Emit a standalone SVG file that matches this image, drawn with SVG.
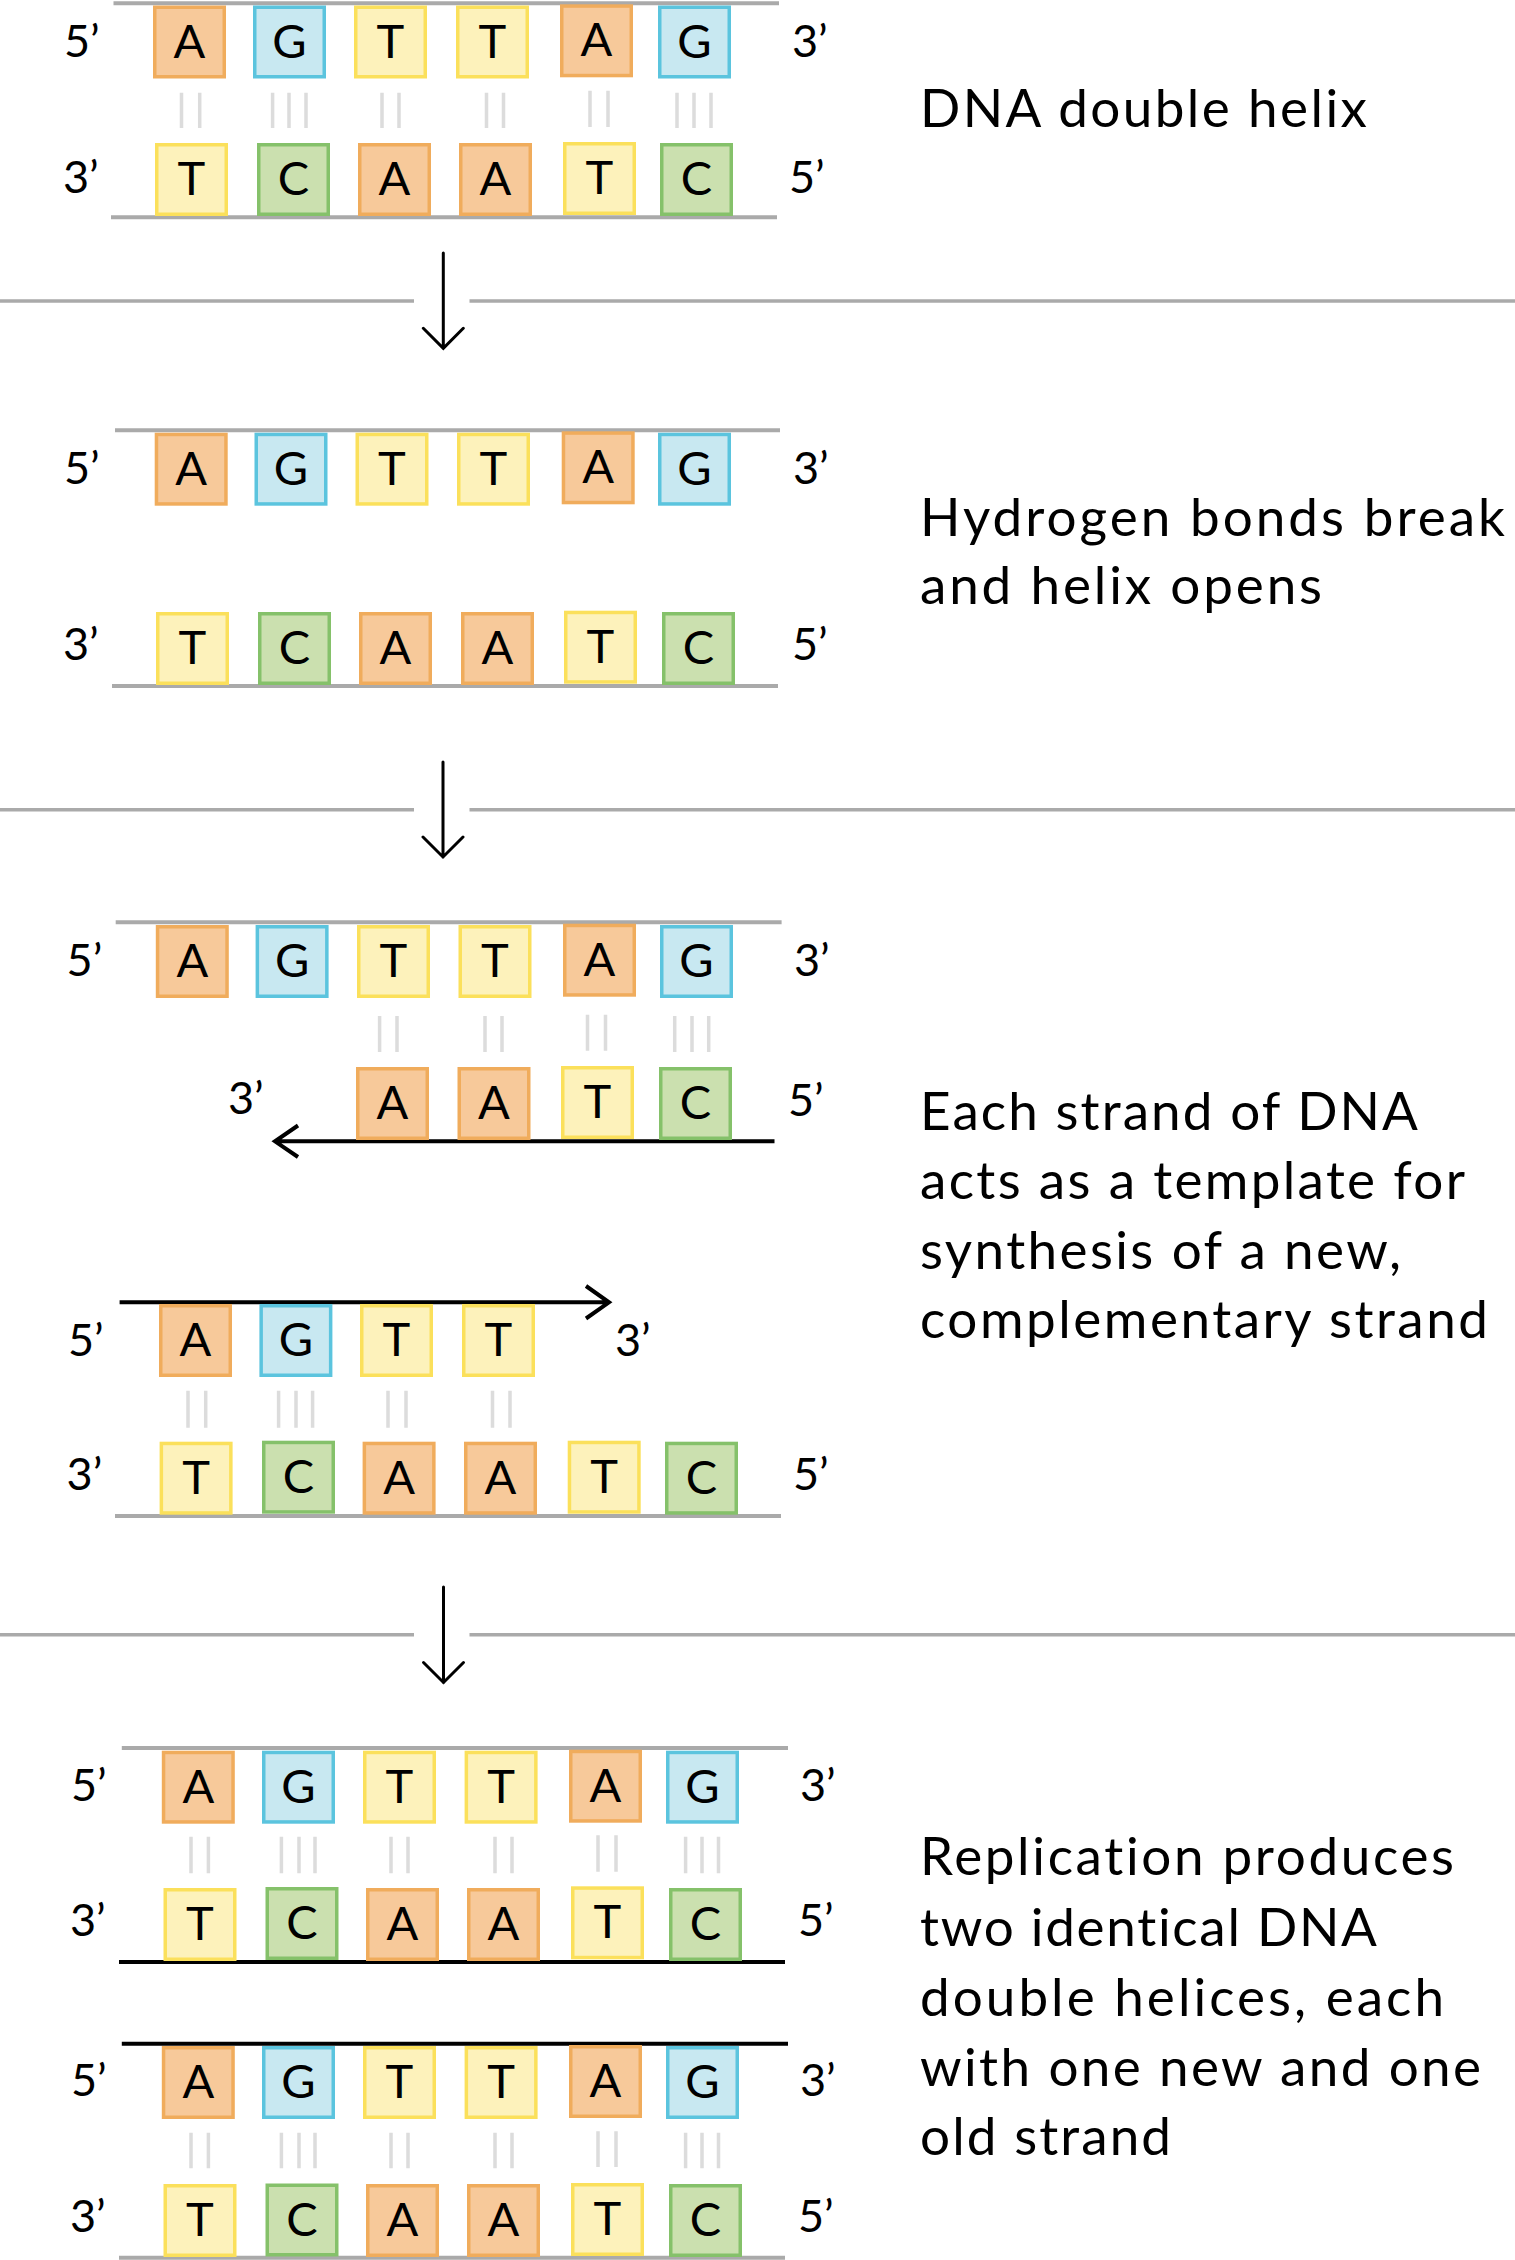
<svg xmlns="http://www.w3.org/2000/svg" width="1515" height="2260" viewBox="0 0 1515 2260">
<style>
.box rect{stroke-width:3.5}
.box text{font-family:Lato,"Liberation Sans",sans-serif;font-size:47px;text-anchor:middle;fill:#000}
.A rect{fill:#F7C99A;stroke:#F0AC5C}
.G rect{fill:#C8E8F1;stroke:#5BC4DE}
.T rect{fill:#FDF2BB;stroke:#FBE05B}
.C rect{fill:#CBE0AF;stroke:#85C16A}
.lbl{font-family:Lato,"Liberation Sans",sans-serif;font-size:45px;fill:#000}
.cap{font-family:Lato,"Liberation Sans",sans-serif;font-size:53px;fill:#000;font-variant-ligatures:none;font-feature-settings:"liga" 0,"clig" 0}
.strand{stroke:#AAAAAA;stroke-width:4;fill:none}
.new{stroke:#000;stroke-width:4;fill:none}
.bond{stroke:#DCDCDC;stroke-width:3.5;fill:none}
.sep{stroke:#AAAAAA;stroke-width:3.5;fill:none}
.arr{stroke:#000;stroke-width:3;fill:none;stroke-linecap:round;stroke-linejoin:miter}
</style>
<rect width="1515" height="2260" fill="#fff"/>

<g id="connectors">
  <!-- strand backbones -->
  <line class="strand" x1="113.5" y1="3.3" x2="779" y2="3.3"/>
  <line class="strand" x1="111" y1="217.3" x2="777" y2="217.3"/>
  <line class="strand" x1="115" y1="430.3" x2="780" y2="430.3"/>
  <line class="strand" x1="112" y1="686" x2="778" y2="686"/>
  <line class="strand" x1="115.7" y1="922.3" x2="781.6" y2="922.3"/>
  <path class="new" d="M774.5 1141.3 H276 M298 1125.5 L275 1141.3 L298 1157"/>
  <path class="new" d="M119.6 1302.3 H607 M586 1286 L609 1302.3 L586 1318.5"/>
  <line class="strand" x1="115" y1="1516" x2="781" y2="1516"/>
  <line class="strand" x1="121.8" y1="1748" x2="788" y2="1748"/>
  <line class="new" x1="119" y1="1962" x2="785" y2="1962"/>
  <line class="new" x1="121.8" y1="2043.7" x2="788" y2="2043.7"/>
  <line class="strand" x1="119" y1="2257.7" x2="785" y2="2257.7"/>
  <!-- hydrogen bonds -->
  <path class="bond" d="M181.5 92.7V128M199.7 92.7V128M272.6 92.7V128M289 92.7V128M306 92.7V128M382 92.7V128M399 92.7V128M486.5 92.7V128M503.5 92.7V128M590 90.7V127M608 90.7V127M677 92.7V128M694 92.7V128M711 92.7V128"/>
  <path class="bond" d="M379.6 1016V1052M397 1016V1052M485 1016V1052M502 1016V1052M587.5 1014.7V1050.7M605.5 1014.7V1050.7M674.7 1016V1052M692 1016V1052M708.7 1016V1052"/>
  <path class="bond" d="M188 1390.7V1427.7M205.7 1390.7V1427.7M278.6 1390.7V1427.7M296 1390.7V1427.7M312.6 1390.7V1427.7M388 1390.7V1427.7M406 1390.7V1427.7M492.5 1390.7V1427.7M510 1390.7V1427.7"/>
  <path class="bond" d="M191 1836.7V1873.3M208.4 1836.7V1873.3M281.4 1836.7V1873.3M299 1836.7V1873.3M315 1836.7V1873.3M391 1836.7V1873.3M408 1836.7V1873.3M495 1836.7V1873.3M512 1836.7V1873.3M598 1835.3V1871.7M616 1835.3V1871.7M685.6 1836.7V1873.3M702 1836.7V1873.3M718.5 1836.7V1873.3"/>
  <path class="bond" d="M191 2132.7V2168.3M208.4 2132.7V2168.3M281.4 2132.7V2168.3M299 2132.7V2168.3M315 2132.7V2168.3M391 2132.7V2168.3M408 2132.7V2168.3M495 2132.7V2168.3M512 2132.7V2168.3M598 2131.3V2167M616 2131.3V2167M685.6 2132.7V2168.3M702 2132.7V2168.3M718.5 2132.7V2168.3"/>
  <!-- step separators -->
  <path class="sep" d="M0 301H414M469.5 301H1515"/>
  <path class="sep" d="M0 809.7H414M469.5 809.7H1515"/>
  <path class="sep" d="M0 1634.7H414M469.5 1634.7H1515"/>
  <!-- step arrows -->
  <path class="arr" d="M443.3 253V348M423.3 328.3L443.3 348.3L463.3 328.3"/>
  <path class="arr" d="M443 762V857M423 837L443 857L463 837"/>
  <path class="arr" d="M443.5 1587V1682.5M423.5 1662.5L443.5 1682.5L463.5 1662.5"/>
</g>

<!-- Step 1: DNA double helix -->
<g id="step1-top">
  <g id="s1t1" class="box A" transform="translate(153,5.5)"><rect x="1.75" y="1.75" width="69.5" height="69.5"/><text x="36.5" y="52">A</text></g>
  <g id="s1t2" class="box G" transform="translate(253,5.5)"><rect x="1.75" y="1.75" width="69.5" height="69.5"/><text x="36.5" y="52">G</text></g>
  <g id="s1t3" class="box T" transform="translate(354,5.5)"><rect x="1.75" y="1.75" width="69.5" height="69.5"/><text x="36.5" y="52">T</text></g>
  <g id="s1t4" class="box T" transform="translate(456,5.5)"><rect x="1.75" y="1.75" width="69.5" height="69.5"/><text x="36.5" y="52">T</text></g>
  <g id="s1t5" class="box A" transform="translate(560,4.3)"><rect x="1.75" y="1.75" width="69.5" height="69.5"/><text x="36.5" y="52">A</text></g>
  <g id="s1t6" class="box G" transform="translate(658,5.5)"><rect x="1.75" y="1.75" width="69.5" height="69.5"/><text x="36.5" y="52">G</text></g>
  <text class="lbl" x="64" y="57">5’</text><text class="lbl" x="792" y="57">3’</text>
</g>
<g id="step1-bottom">
  <g id="s1b1" class="box T" transform="translate(155,143)"><rect x="1.75" y="1.75" width="69.5" height="69.5"/><text x="36.5" y="52">T</text></g>
  <g id="s1b2" class="box C" transform="translate(257,143)"><rect x="1.75" y="1.75" width="69.5" height="69.5"/><text x="36.5" y="52">C</text></g>
  <g id="s1b3" class="box A" transform="translate(358,143)"><rect x="1.75" y="1.75" width="69.5" height="69.5"/><text x="36.5" y="52">A</text></g>
  <g id="s1b4" class="box A" transform="translate(459,143)"><rect x="1.75" y="1.75" width="69.5" height="69.5"/><text x="36.5" y="52">A</text></g>
  <g id="s1b5" class="box T" transform="translate(563,142)"><rect x="1.75" y="1.75" width="69.5" height="69.5"/><text x="36.5" y="52">T</text></g>
  <g id="s1b6" class="box C" transform="translate(660,143)"><rect x="1.75" y="1.75" width="69.5" height="69.5"/><text x="36.5" y="52">C</text></g>
  <text class="lbl" x="63" y="193">3’</text><text class="lbl" x="789" y="193">5’</text>
</g>
<g id="caption1"><text class="cap" x="920" y="126.7" textLength="447" lengthAdjust="spacing">DNA double helix</text></g>

<!-- Step 2: helix opens -->
<g id="step2-top">
  <g id="s2t1" class="box A" transform="translate(154.7,432.7)"><rect x="1.75" y="1.75" width="69.5" height="69.5"/><text x="36.5" y="52">A</text></g>
  <g id="s2t2" class="box G" transform="translate(254.5,432.7)"><rect x="1.75" y="1.75" width="69.5" height="69.5"/><text x="36.5" y="52">G</text></g>
  <g id="s2t3" class="box T" transform="translate(355.5,432.7)"><rect x="1.75" y="1.75" width="69.5" height="69.5"/><text x="36.5" y="52">T</text></g>
  <g id="s2t4" class="box T" transform="translate(457,432.7)"><rect x="1.75" y="1.75" width="69.5" height="69.5"/><text x="36.5" y="52">T</text></g>
  <g id="s2t5" class="box A" transform="translate(561.7,431.3)"><rect x="1.75" y="1.75" width="69.5" height="69.5"/><text x="36.5" y="52">A</text></g>
  <g id="s2t6" class="box G" transform="translate(658,432.7)"><rect x="1.75" y="1.75" width="69.5" height="69.5"/><text x="36.5" y="52">G</text></g>
  <text class="lbl" x="64" y="484">5’</text><text class="lbl" x="793" y="484">3’</text>
</g>
<g id="step2-bottom">
  <g id="s2b1" class="box T" transform="translate(156,612)"><rect x="1.75" y="1.75" width="69.5" height="69.5"/><text x="36.5" y="52">T</text></g>
  <g id="s2b2" class="box C" transform="translate(258,612)"><rect x="1.75" y="1.75" width="69.5" height="69.5"/><text x="36.5" y="52">C</text></g>
  <g id="s2b3" class="box A" transform="translate(359,612)"><rect x="1.75" y="1.75" width="69.5" height="69.5"/><text x="36.5" y="52">A</text></g>
  <g id="s2b4" class="box A" transform="translate(461,612)"><rect x="1.75" y="1.75" width="69.5" height="69.5"/><text x="36.5" y="52">A</text></g>
  <g id="s2b5" class="box T" transform="translate(564,610.7)"><rect x="1.75" y="1.75" width="69.5" height="69.5"/><text x="36.5" y="52">T</text></g>
  <g id="s2b6" class="box C" transform="translate(662,612)"><rect x="1.75" y="1.75" width="69.5" height="69.5"/><text x="36.5" y="52">C</text></g>
  <text class="lbl" x="63" y="660">3’</text><text class="lbl" x="792" y="660">5’</text>
</g>
<g id="caption2">
  <text class="cap" x="920" y="535.7" textLength="585" lengthAdjust="spacing">Hydrogen bonds break</text>
  <text class="cap" x="920" y="604.3" textLength="402" lengthAdjust="spacing">and helix opens</text>
</g>

<!-- Step 3: templates -->
<g id="step3-template-top">
  <g id="s3t1" class="box A" transform="translate(155.8,925)"><rect x="1.75" y="1.75" width="69.5" height="69.5"/><text x="36.5" y="52">A</text></g>
  <g id="s3t2" class="box G" transform="translate(255.6,925)"><rect x="1.75" y="1.75" width="69.5" height="69.5"/><text x="36.5" y="52">G</text></g>
  <g id="s3t3" class="box T" transform="translate(357,925)"><rect x="1.75" y="1.75" width="69.5" height="69.5"/><text x="36.5" y="52">T</text></g>
  <g id="s3t4" class="box T" transform="translate(458.5,925)"><rect x="1.75" y="1.75" width="69.5" height="69.5"/><text x="36.5" y="52">T</text></g>
  <g id="s3t5" class="box A" transform="translate(563,923.7)"><rect x="1.75" y="1.75" width="69.5" height="69.5"/><text x="36.5" y="52">A</text></g>
  <g id="s3t6" class="box G" transform="translate(660,925)"><rect x="1.75" y="1.75" width="69.5" height="69.5"/><text x="36.5" y="52">G</text></g>
  <text class="lbl" x="66.6" y="976">5’</text><text class="lbl" x="794" y="976">3’</text>
</g>
<g id="step3-new-bottom">
  <g id="s3n1" class="box A" transform="translate(356,1067)"><rect x="1.75" y="1.75" width="69.5" height="69.5"/><text x="36.5" y="52">A</text></g>
  <g id="s3n2" class="box A" transform="translate(457.5,1067)"><rect x="1.75" y="1.75" width="69.5" height="69.5"/><text x="36.5" y="52">A</text></g>
  <g id="s3n3" class="box T" transform="translate(561,1066)"><rect x="1.75" y="1.75" width="69.5" height="69.5"/><text x="36.5" y="52">T</text></g>
  <g id="s3n4" class="box C" transform="translate(659,1067)"><rect x="1.75" y="1.75" width="69.5" height="69.5"/><text x="36.5" y="52">C</text></g>
  <text class="lbl" x="228" y="1114">3’</text><text class="lbl" x="788" y="1116">5’</text>
</g>
<g id="step3-new-top">
  <g id="s3m1" class="box A" transform="translate(159,1304)"><rect x="1.75" y="1.75" width="69.5" height="69.5"/><text x="36.5" y="52">A</text></g>
  <g id="s3m2" class="box G" transform="translate(259.4,1304)"><rect x="1.75" y="1.75" width="69.5" height="69.5"/><text x="36.5" y="52">G</text></g>
  <g id="s3m3" class="box T" transform="translate(360,1304)"><rect x="1.75" y="1.75" width="69.5" height="69.5"/><text x="36.5" y="52">T</text></g>
  <g id="s3m4" class="box T" transform="translate(462,1304)"><rect x="1.75" y="1.75" width="69.5" height="69.5"/><text x="36.5" y="52">T</text></g>
  <text class="lbl" x="68" y="1356">5’</text><text class="lbl" x="615" y="1356">3’</text>
</g>
<g id="step3-template-bottom">
  <g id="s3b1" class="box T" transform="translate(159.6,1441.7)"><rect x="1.75" y="1.75" width="69.5" height="69.5"/><text x="36.5" y="52">T</text></g>
  <g id="s3b2" class="box C" transform="translate(262,1440.7)"><rect x="1.75" y="1.75" width="69.5" height="69.5"/><text x="36.5" y="52">C</text></g>
  <g id="s3b3" class="box A" transform="translate(362.6,1441.7)"><rect x="1.75" y="1.75" width="69.5" height="69.5"/><text x="36.5" y="52">A</text></g>
  <g id="s3b4" class="box A" transform="translate(464,1441.7)"><rect x="1.75" y="1.75" width="69.5" height="69.5"/><text x="36.5" y="52">A</text></g>
  <g id="s3b5" class="box T" transform="translate(567.7,1440.7)"><rect x="1.75" y="1.75" width="69.5" height="69.5"/><text x="36.5" y="52">T</text></g>
  <g id="s3b6" class="box C" transform="translate(665,1441.7)"><rect x="1.75" y="1.75" width="69.5" height="69.5"/><text x="36.5" y="52">C</text></g>
  <text class="lbl" x="66.6" y="1490">3’</text><text class="lbl" x="793" y="1490">5’</text>
</g>
<g id="caption3">
  <text class="cap" x="920" y="1130" textLength="498" lengthAdjust="spacing">Each strand of DNA</text>
  <text class="cap" x="920" y="1199" textLength="545" lengthAdjust="spacing">acts as a template for</text>
  <text class="cap" x="920" y="1268.7" textLength="481" lengthAdjust="spacing">synthesis of a new,</text>
  <text class="cap" x="920" y="1338.3" textLength="568" lengthAdjust="spacing">complementary strand</text>
</g>

<!-- Step 4: two helices -->
<g id="step4-helix1-top">
  <g id="s4t1" class="box A" transform="translate(161.8,1750.7)"><rect x="1.75" y="1.75" width="69.5" height="69.5"/><text x="36.5" y="52">A</text></g>
  <g id="s4t2" class="box G" transform="translate(262,1750.7)"><rect x="1.75" y="1.75" width="69.5" height="69.5"/><text x="36.5" y="52">G</text></g>
  <g id="s4t3" class="box T" transform="translate(363,1750.7)"><rect x="1.75" y="1.75" width="69.5" height="69.5"/><text x="36.5" y="52">T</text></g>
  <g id="s4t4" class="box T" transform="translate(464.6,1750.7)"><rect x="1.75" y="1.75" width="69.5" height="69.5"/><text x="36.5" y="52">T</text></g>
  <g id="s4t5" class="box A" transform="translate(569,1749.7)"><rect x="1.75" y="1.75" width="69.5" height="69.5"/><text x="36.5" y="52">A</text></g>
  <g id="s4t6" class="box G" transform="translate(666,1750.7)"><rect x="1.75" y="1.75" width="69.5" height="69.5"/><text x="36.5" y="52">G</text></g>
  <text class="lbl" x="71" y="1800.7">5’</text><text class="lbl" x="800" y="1800.7">3’</text>
</g>
<g id="step4-helix1-bottom">
  <g id="s4b1" class="box T" transform="translate(163.5,1888)"><rect x="1.75" y="1.75" width="69.5" height="69.5"/><text x="36.5" y="52">T</text></g>
  <g id="s4b2" class="box C" transform="translate(265.5,1887)"><rect x="1.75" y="1.75" width="69.5" height="69.5"/><text x="36.5" y="52">C</text></g>
  <g id="s4b3" class="box A" transform="translate(366,1888)"><rect x="1.75" y="1.75" width="69.5" height="69.5"/><text x="36.5" y="52">A</text></g>
  <g id="s4b4" class="box A" transform="translate(467,1888)"><rect x="1.75" y="1.75" width="69.5" height="69.5"/><text x="36.5" y="52">A</text></g>
  <g id="s4b5" class="box T" transform="translate(571,1886.3)"><rect x="1.75" y="1.75" width="69.5" height="69.5"/><text x="36.5" y="52">T</text></g>
  <g id="s4b6" class="box C" transform="translate(669,1888)"><rect x="1.75" y="1.75" width="69.5" height="69.5"/><text x="36.5" y="52">C</text></g>
  <text class="lbl" x="70" y="1936">3’</text><text class="lbl" x="798" y="1936">5’</text>
</g>
<g id="step4-helix2-top">
  <g id="s5t1" class="box A" transform="translate(161.8,2046)"><rect x="1.75" y="1.75" width="69.5" height="69.5"/><text x="36.5" y="52">A</text></g>
  <g id="s5t2" class="box G" transform="translate(262,2046)"><rect x="1.75" y="1.75" width="69.5" height="69.5"/><text x="36.5" y="52">G</text></g>
  <g id="s5t3" class="box T" transform="translate(363,2046)"><rect x="1.75" y="1.75" width="69.5" height="69.5"/><text x="36.5" y="52">T</text></g>
  <g id="s5t4" class="box T" transform="translate(464.6,2046)"><rect x="1.75" y="1.75" width="69.5" height="69.5"/><text x="36.5" y="52">T</text></g>
  <g id="s5t5" class="box A" transform="translate(569,2045)"><rect x="1.75" y="1.75" width="69.5" height="69.5"/><text x="36.5" y="52">A</text></g>
  <g id="s5t6" class="box G" transform="translate(666,2046)"><rect x="1.75" y="1.75" width="69.5" height="69.5"/><text x="36.5" y="52">G</text></g>
  <text class="lbl" x="71" y="2096">5’</text><text class="lbl" x="800" y="2096">3’</text>
</g>
<g id="step4-helix2-bottom">
  <g id="s5b1" class="box T" transform="translate(163.5,2184)"><rect x="1.75" y="1.75" width="69.5" height="69.5"/><text x="36.5" y="52">T</text></g>
  <g id="s5b2" class="box C" transform="translate(265.5,2183.5)"><rect x="1.75" y="1.75" width="69.5" height="69.5"/><text x="36.5" y="52">C</text></g>
  <g id="s5b3" class="box A" transform="translate(366,2184)"><rect x="1.75" y="1.75" width="69.5" height="69.5"/><text x="36.5" y="52">A</text></g>
  <g id="s5b4" class="box A" transform="translate(467,2184)"><rect x="1.75" y="1.75" width="69.5" height="69.5"/><text x="36.5" y="52">A</text></g>
  <g id="s5b5" class="box T" transform="translate(571,2183)"><rect x="1.75" y="1.75" width="69.5" height="69.5"/><text x="36.5" y="52">T</text></g>
  <g id="s5b6" class="box C" transform="translate(669,2184)"><rect x="1.75" y="1.75" width="69.5" height="69.5"/><text x="36.5" y="52">C</text></g>
  <text class="lbl" x="70" y="2231.7">3’</text><text class="lbl" x="798" y="2231.7">5’</text>
</g>
<g id="caption4">
  <text class="cap" x="920" y="1875" textLength="534" lengthAdjust="spacing">Replication produces</text>
  <text class="cap" x="920" y="1946" textLength="457" lengthAdjust="spacing">two identical DNA</text>
  <text class="cap" x="920" y="2015.7" textLength="524" lengthAdjust="spacing">double helices, each</text>
  <text class="cap" x="920" y="2085.7" textLength="561" lengthAdjust="spacing">with one new and one</text>
  <text class="cap" x="920" y="2155" textLength="251" lengthAdjust="spacing">old strand</text>
</g>
</svg>
